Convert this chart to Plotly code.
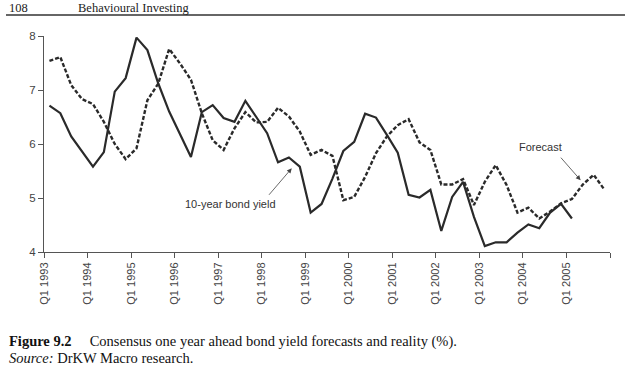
import plotly.graph_objects as go

years = list(range(1993, 2006))
quarters = [f"Q{q} {y}" for y in years for q in range(1, 5)]

bond_yield = [6.71, 6.57, 6.14, 5.85, 5.58, 5.85, 6.97, 7.22, 7.97, 7.74,
              7.12, 6.60, 6.17, 5.76, 6.59, 6.72, 6.48, 6.41, 6.80, 6.51,
              6.20, 5.66, 5.75, 5.58, 4.73, 4.89, 5.36, 5.87, 6.04, 6.56,
              6.49, 6.17, 5.84, 5.06, 5.01, 5.15, 4.39, 5.02, 5.30, 4.65,
              4.11, 4.18, 4.18, 4.36, 4.51, 4.44, 4.73, 4.89, 4.62]

forecast = [7.54, 7.61, 7.09, 6.83, 6.74, 6.41, 6.00, 5.72, 5.92, 6.81,
            7.12, 7.76, 7.49, 7.19, 6.57, 6.07, 5.89, 6.29, 6.59, 6.40,
            6.41, 6.67, 6.51, 6.23, 5.80, 5.89, 5.78, 4.96, 5.02, 5.39,
            5.83, 6.14, 6.35, 6.46, 6.03, 5.89, 5.25, 5.25, 5.35, 4.87,
            5.30, 5.61, 5.24, 4.73, 4.82, 4.62, 4.75, 4.90, 4.98, 5.25,
            5.43, 5.15]

tick_labels = [f"Q1 {y}" for y in years]
y_ticks = [4, 5, 6, 7, 8]

# quarter index -> centre of its band on a numeric axis
x_bond = [quarters.index(q) + 0.5 for q in quarters[:len(bond_yield)]]
x_fc = [quarters.index(q) + 0.5 for q in quarters[:len(forecast)]]

fig = go.Figure()
fig.add_trace(go.Scatter(x=x_fc, y=forecast, mode="lines",
                         line=dict(color="#2a2a2a", width=2.4, dash="4px,2px"),
                         name="Forecast"))
fig.add_trace(go.Scatter(x=x_bond, y=bond_yield, mode="lines",
                         line=dict(color="#2a2a2a", width=2.2),
                         name="10-year bond yield"))

tickvals = [quarters.index(t) for t in tick_labels] + [len(quarters)]
ticktext = tick_labels + [""]

fig.update_layout(
    width=625, height=366,
    margin=dict(l=44, r=15, t=36, b=114),
    paper_bgcolor="white", plot_bgcolor="white",
    showlegend=False,
    font=dict(family="Liberation Sans, Arial, sans-serif", color="#333"),
    xaxis=dict(range=[0, len(quarters)], tickmode="array", tickvals=tickvals,
               ticktext=ticktext, tickangle=-90, showgrid=False, zeroline=False,
               showline=True, linecolor="#555", linewidth=1.2,
               ticks="outside", ticklen=5, tickcolor="#555", tickwidth=1.2,
               tickfont=dict(size=11, color="#444")),
    yaxis=dict(range=[4, 8], tickmode="array", tickvals=y_ticks,
               showgrid=False, zeroline=False,
               showline=True, linecolor="#555", linewidth=1.2,
               ticks="outside", ticklen=5, tickcolor="#555", tickwidth=1.2,
               tickfont=dict(size=11.5, color="#444")),
)

# annotations with arrows
fig.add_annotation(x=quarters.index("Q3 1998") + 0.76, y=5.55, xref="x", yref="y",
                   ax=-24, ay=28, text="", showarrow=True, arrowhead=2,
                   arrowsize=1.2, arrowwidth=0.8, arrowcolor="#444")
fig.add_annotation(x=quarters.index("Q2 1997") + 0.1, y=4.89, xref="x", yref="y",
                   text="10-year bond yield", showarrow=False,
                   font=dict(size=11, color="#333"), xanchor="center")
fig.add_annotation(x=quarters.index("Q2 2005") + 0.3, y=5.33, xref="x", yref="y",
                   ax=-21, ay=-24, text="", showarrow=True, arrowhead=2,
                   arrowsize=1.2, arrowwidth=0.8, arrowcolor="#444")
fig.add_annotation(x=quarters.index("Q2 2004") + 0.66, y=5.94, xref="x", yref="y",
                   text="Forecast", showarrow=False,
                   font=dict(size=11, color="#333"), xanchor="center")

# page header and rule
def px_x(px):
    return (px - 44) / 566

def px_y(py):
    return (252 - py) / 216

serif = "Liberation Serif, Times New Roman, serif"
fig.add_annotation(x=px_x(7), y=px_y(7.5), xref="paper", yref="paper",
                   text="108", showarrow=False, xanchor="left", yanchor="middle",
                   font=dict(family=serif, size=12.5, color="#222"))
fig.add_annotation(x=px_x(76), y=px_y(7.5), xref="paper", yref="paper",
                   text="Behavioural Investing", showarrow=False, xanchor="left", yanchor="middle",
                   font=dict(family=serif, size=12.5, color="#222"))
fig.add_shape(type="line", xref="paper", yref="paper",
              x0=px_x(6), x1=px_x(625), y0=px_y(15), y1=px_y(15),
              line=dict(color="#333", width=1.3))

# caption
fig.add_annotation(x=px_x(7), y=px_y(341), xref="paper", yref="paper",
                   text="<b>Figure 9.2</b>\u2003 Consensus one year ahead bond yield forecasts and reality (%).",
                   showarrow=False, xanchor="left", yanchor="middle",
                   font=dict(family=serif, size=14.5, color="#111"))
fig.add_annotation(x=px_x(7), y=px_y(358), xref="paper", yref="paper",
                   text="<i>Source:</i> DrKW Macro research.",
                   showarrow=False, xanchor="left", yanchor="middle",
                   font=dict(family=serif, size=14.5, color="#111"))

fig.write_html("out.html")
